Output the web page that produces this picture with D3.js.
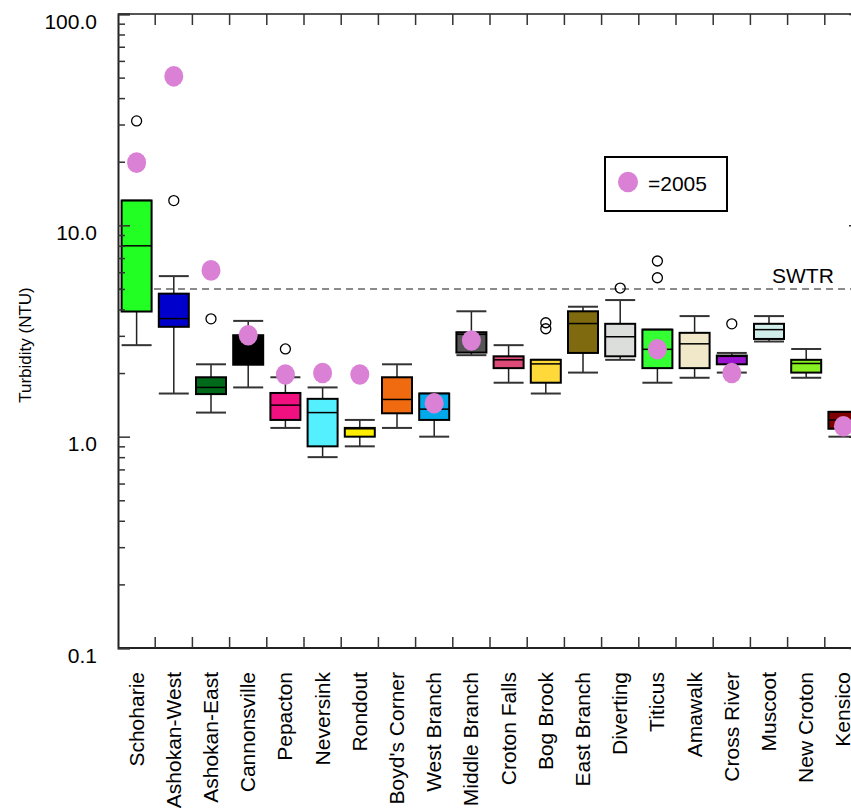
<!DOCTYPE html>
<html>
<head>
<meta charset="utf-8">
<script src="https://cdn.jsdelivr.net/npm/d3@7"></script>
<style>
  body { margin: 0; background: #fff; }
  text { font-family: "Liberation Sans", Arial, Helvetica, sans-serif; }
</style>
</head>
<body>
<div id="chart"></div>
<script>
var reservoirs = ["Schoharie", "Ashokan-West", "Ashokan-East", "Cannonsville", "Pepacton",
    "Neversink", "Rondout", "Boyd's Corner", "West Branch", "Middle Branch",
    "Croton Falls", "Bog Brook", "East Branch", "Diverting", "Titicus",
    "Amawalk", "Cross River", "Muscoot", "New Croton", "Kensico"];
var boxColors = ["#22ff22", "#0000cc", "#006a1a", "#000000", "#f0107f",
    "#55f0ff", "#ffee00", "#f06a10", "#00aaea", "#555555",
    "#dd4a78", "#ffd93a", "#806a10", "#dcdedc", "#33ff33",
    "#f0e8c8", "#9a14d0", "#d2eeea", "#88f022", "#7f0000"];
var whiskerLow = [2.71, 1.60, 1.30, 1.71, 1.10, 0.80, 0.90, 1.10, 1.00, 2.43,
    1.80, 1.60, 2.01, 2.31, 1.80, 1.90, 2.01, 2.82, 1.90, 1.00];
var q1 = [3.91, 3.31, 1.59, 2.19, 1.20, 0.90, 1.00, 1.29, 1.20, 2.50,
    2.11, 1.80, 2.49, 2.40, 2.11, 2.11, 2.20, 2.90, 2.01, 1.09];
var median = [8.0, 3.62, 1.71, 2.60, 1.41, 1.30, 1.09, 1.50, 1.35, 3.05,
    2.31, 2.21, 3.43, 2.97, 2.59, 2.75, 2.40, 3.21, 2.22, 1.20];
var q3 = [13.1, 4.75, 1.91, 3.02, 1.61, 1.51, 1.10, 1.91, 1.60, 3.12,
    2.40, 2.31, 3.92, 3.42, 3.21, 3.10, 2.42, 3.42, 2.31, 1.31];
var whiskerHigh = [13.1, 5.75, 2.20, 3.53, 1.91, 1.71, 1.20, 2.20, 1.60, 3.92,
    2.71, 2.31, 4.12, 4.43, 3.21, 3.72, 2.49, 3.72, 2.60, 1.31];
var outliers = [[31.2], [13.1], [3.61], [], [2.60], [], [], [], [], [],
    [], [3.24, 3.46], [], [5.05], [5.65, 6.78], [], [3.42], [], [], []];
var value2005 = [19.8, 50.7, 6.12, 3.02, 1.97, 2.00, 1.97, null, 1.44, 2.85,
    null, null, null, null, 2.59, null, 2.00, null, null, 1.12];
var yTicks = [0.1, 1, 10, 100];
var swtrLimit = 5;

var width = 851, height = 808;
var plotLeft = 118, plotTop = 14, plotBottom = 648, step = 37.2;

var svg = d3.select("#chart").append("svg")
    .attr("width", width)
    .attr("height", height);

var x = d3.scaleBand().domain(reservoirs).range([plotLeft, plotLeft + step * reservoirs.length]);
var y = d3.scaleLog().domain([0.1, 100]).range([plotBottom, plotTop]);
var plotRight = x.range()[1];
var boxW = 30;

var minorTicks = [];
[0.1, 1, 10].forEach(function (d) {
    for (var k = 2; k <= 9; k++) minorTicks.push(d * k);
});

// SWTR limit line
svg.append("line")
    .attr("x1", plotLeft).attr("x2", width)
    .attr("y1", y(swtrLimit)).attr("y2", y(swtrLimit))
    .attr("stroke", "#666")
    .attr("stroke-width", 1.5)
    .attr("stroke-dasharray", "7,5");

svg.append("text")
    .attr("x", 772)
    .attr("y", y(swtrLimit) - 6)
    .style("font-size", "21px")
    .text("SWTR");

// boxes
var rows = reservoirs.map(function (r, i) {
    return { name: r, color: boxColors[i], lw: whiskerLow[i], q1: q1[i], med: median[i],
        q3: q3[i], hw: whiskerHigh[i], out: outliers[i], p: value2005[i] };
});

var g = svg.selectAll(".box").data(rows).enter().append("g")
    .attr("class", "box")
    .attr("transform", function (d) { return "translate(" + (x(d.name) + x.bandwidth() / 2) + ",0)"; });

g.append("line")
    .attr("y1", function (d) { return y(d.q3); })
    .attr("y2", function (d) { return y(d.hw); })
    .attr("stroke", "#222").attr("stroke-width", 1.5);
g.append("line")
    .attr("y1", function (d) { return y(d.q1); })
    .attr("y2", function (d) { return y(d.lw); })
    .attr("stroke", "#222").attr("stroke-width", 1.5);
g.append("line")
    .attr("x1", -boxW / 2).attr("x2", boxW / 2)
    .attr("y1", function (d) { return y(d.hw); })
    .attr("y2", function (d) { return y(d.hw); })
    .attr("stroke", "#333").attr("stroke-width", 2);
g.append("line")
    .attr("x1", -boxW / 2).attr("x2", boxW / 2)
    .attr("y1", function (d) { return y(d.lw); })
    .attr("y2", function (d) { return y(d.lw); })
    .attr("stroke", "#333").attr("stroke-width", 2);
g.append("rect")
    .attr("x", -boxW / 2).attr("width", boxW)
    .attr("y", function (d) { return y(d.q3); })
    .attr("height", function (d) { return y(d.q1) - y(d.q3); })
    .attr("fill", function (d) { return d.color; })
    .attr("stroke", "#000").attr("stroke-width", 2);
g.append("line")
    .attr("x1", -boxW / 2).attr("x2", boxW / 2)
    .attr("y1", function (d) { return y(d.med); })
    .attr("y2", function (d) { return y(d.med); })
    .attr("stroke", "#000").attr("stroke-width", 1.5);

g.selectAll(".out").data(function (d) { return d.out; }).enter().append("circle")
    .attr("class", "out")
    .attr("cy", function (v) { return y(v); })
    .attr("r", 5)
    .attr("fill", "none")
    .attr("stroke", "#000").attr("stroke-width", 1.3);

g.filter(function (d) { return d.p !== null; }).append("ellipse")
    .attr("cy", function (d) { return y(d.p); })
    .attr("rx", 9.5).attr("ry", 10.3)
    .attr("fill", "#da80d5");

// frame
svg.append("line").attr("x1", plotLeft).attr("x2", plotRight).attr("y1", plotTop).attr("y2", plotTop)
    .attr("stroke", "#555").attr("stroke-width", 2);
svg.append("line").attr("x1", plotLeft).attr("x2", plotRight).attr("y1", plotBottom).attr("y2", plotBottom)
    .attr("stroke", "#222").attr("stroke-width", 2);
svg.append("line").attr("x1", plotRight).attr("x2", plotRight).attr("y1", plotTop).attr("y2", plotBottom)
    .attr("stroke", "#222").attr("stroke-width", 2);

// category boundary ticks top and bottom
var bounds = reservoirs.slice(1);
svg.selectAll(".tt").data(bounds).enter().append("line")
    .attr("x1", function (d) { return x(d); }).attr("x2", function (d) { return x(d); })
    .attr("y1", plotTop).attr("y2", plotTop + 11)
    .attr("stroke", "#333").attr("stroke-width", 1.5);
svg.selectAll(".bt").data(bounds).enter().append("line")
    .attr("x1", function (d) { return x(d); }).attr("x2", function (d) { return x(d); })
    .attr("y1", plotBottom).attr("y2", plotBottom - 11)
    .attr("stroke", "#333").attr("stroke-width", 1.5);

// left axis
var yAxis = svg.append("g")
    .attr("transform", "translate(" + plotLeft + ",0)")
    .call(d3.axisLeft(y).tickValues(yTicks).tickSize(-12).tickPadding(21)
        .tickFormat(d3.format(".1f")));
yAxis.select(".domain").attr("stroke", "#222").attr("stroke-width", 2);
yAxis.selectAll(".tick line").attr("stroke", "#333").attr("stroke-width", 1.5);
yAxis.selectAll(".tick text")
    .attr("dy", 14)
    .attr("fill", "#000")
    .style("font-size", "21px")
    .style("font-family", "'Liberation Sans', Arial, sans-serif");

var yMinor = svg.append("g")
    .attr("transform", "translate(" + plotLeft + ",0)")
    .call(d3.axisLeft(y).tickValues(minorTicks).tickSize(-7).tickFormat(""));
yMinor.select(".domain").remove();
yMinor.selectAll(".tick line").attr("stroke", "#333").attr("stroke-width", 1.5);

// right axis (mostly off-canvas)
var yRight = svg.append("g")
    .attr("transform", "translate(" + plotRight + ",0)")
    .call(d3.axisRight(y).tickValues(yTicks).tickSize(-13).tickFormat(""));
yRight.select(".domain").remove();
yRight.selectAll(".tick line").attr("stroke", "#333").attr("stroke-width", 1.5);

// category labels
svg.selectAll(".cat").data(reservoirs).enter().append("text")
    .attr("class", "cat")
    .attr("transform", function (d) {
        return "translate(" + (x(d) + x.bandwidth() / 2 + 7) + ",672)rotate(-90)";
    })
    .attr("text-anchor", "end")
    .style("font-size", "21px")
    .text(function (d) { return d; });

// y label
svg.append("text")
    .attr("transform", "translate(31,345)rotate(-90)")
    .attr("text-anchor", "middle")
    .style("font-size", "17px")
    .text("Turbidity (NTU)");

// legend
svg.append("rect")
    .attr("x", 605).attr("y", 157)
    .attr("width", 122).attr("height", 54)
    .attr("fill", "#fff")
    .attr("stroke", "#000").attr("stroke-width", 2);
svg.append("ellipse")
    .attr("cx", 628).attr("cy", 182)
    .attr("rx", 10).attr("ry", 10.3)
    .attr("fill", "#da80d5");
svg.append("text")
    .attr("x", 648).attr("y", 191)
    .style("font-size", "21px")
    .text("=2005");
</script>
</body>
</html>
